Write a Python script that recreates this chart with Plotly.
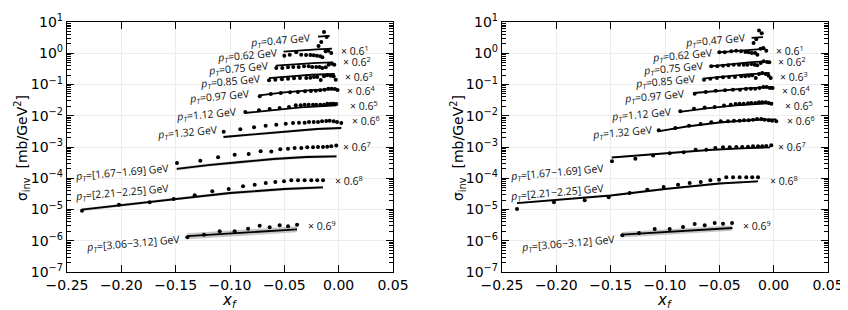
import plotly.graph_objects as go

# ---------------- data ----------------
PT_LABELS = ["0.47", "0.62", "0.75", "0.85", "0.97", "1.12", "1.32",
             "[1.67\u22121.69]", "[2.21\u22122.25]", "[3.06\u22123.12]"]
MULT_EXP = [0, 1, 2, 3, 4, 5, 6, 7, 8, 9]

# pT = 0.47
XP0 = [-0.0185, -0.016, -0.0135, -0.011]
LP0 = [1.7, 2.3, 4.8, 3.3]
RP0 = [2.13, 2.79, 5.35, 4.35]
LTX0, LTY0 = [-0.019, -0.0083], [3.4, 3.6]
RTX0, RTY0 = [-0.0203, -0.0098], [3.1, 3.3]

# pT = 0.62 (x 0.6^1)
XP1 = [-0.050, -0.045, -0.039, -0.0345, -0.030, -0.026, -0.023, -0.020, -0.017, -0.015, -0.012, -0.0095, -0.0068]
LP1 = [0.835, 0.90, 1.07, 0.90, 0.88, 0.88, 0.86, 0.835, 0.80, 0.74, 1.15, 1.21, 1.02]
RP1 = [1.07, 1.07, 1.15, 1.21, 1.15, 1.10, 1.07, 1.02, 1.02, 0.90, 1.40, 1.47, 1.21]
LTX1, LTY1 = [-0.0507, -0.035, -0.02, -0.0062], [1.12, 1.25, 1.33, 1.40]
RTX1, RTY1 = [-0.051, -0.035, -0.02, -0.0075], [1.07, 1.17, 1.27, 1.40]

# pT = 0.75 (x 0.6^2)
XP2 = [-0.0574, -0.0519, -0.0466, -0.0418, -0.0368, -0.0319, -0.0276, -0.0243, -0.0206, -0.0175, -0.0151, -0.0119, -0.0092, -0.0061, -0.0040]
LP2 = [0.337, 0.337, 0.355, 0.363, 0.363, 0.382, 0.382, 0.363, 0.363, 0.363, 0.337, 0.355, 0.43, 0.463, 0.43]
RP2 = [0.382, 0.382, 0.40, 0.411, 0.43, 0.43, 0.43, 0.43, 0.453, 0.43, 0.411, 0.488, 0.552, 0.525, 0.513]
LTX2, LTY2 = [-0.0579, -0.04, -0.02, -0.0052], [0.40, 0.45, 0.49, 0.51]
RTX2, RTY2 = [-0.059, -0.04, -0.02, -0.0083], [0.382, 0.45, 0.52, 0.552]

# pT = 0.85 (x 0.6^3)
XP3 = [-0.0641, -0.0583, -0.0522, -0.0466, -0.0411, -0.0356, -0.0298, -0.0261, -0.0227, -0.0197, -0.0165, -0.0135, -0.0105, -0.0073, -0.0046, -0.0027]
LP3 = [0.136, 0.1425, 0.1466, 0.1535, 0.158, 0.1615, 0.1615, 0.165, 0.174, 0.174, 0.139, 0.183, 0.197, 0.191, 0.183, 0.1425]
RP3 = [0.1425, 0.1535, 0.1615, 0.17, 0.174, 0.174, 0.183, 0.183, 0.191, 0.197, 0.1615, 0.217, 0.233, 0.217, 0.191, 0.1615]
LTX3, LTY3 = [-0.0641, -0.045, -0.025, -0.0037], [0.161, 0.185, 0.205, 0.217]
RTX3, RTY3 = [-0.065, -0.045, -0.025, -0.0037], [0.1535, 0.18, 0.21, 0.233]

# pT = 0.97 (x 0.6^4)
XP4 = [-0.0727, -0.0625, -0.0533, -0.0447, -0.0375, -0.031, -0.0255, -0.021, -0.017, -0.013, -0.0095, -0.0065, -0.0035, -0.001]
LP4 = [0.0419, 0.0497, 0.0535, 0.0563, 0.0575, 0.0605, 0.0619, 0.0633, 0.0652, 0.0682, 0.0734, 0.0734, 0.0718, 0.0667]
RP4 = [0.0508, 0.0575, 0.0633, 0.0652, 0.0682, 0.0682, 0.0718, 0.0734, 0.0734, 0.0773, 0.0832, 0.0832, 0.0773, 0.0773]
LTX4, LTY4 = [-0.0733, -0.05, -0.025, -0.0022], [0.0451, 0.056, 0.066, 0.0718]
RTX4, RTY4 = [-0.0733, -0.05, -0.025, -0.0015], [0.0535, 0.063, 0.075, 0.0832]

# pT = 1.12 (x 0.6^5)
XP5 = [-0.0859, -0.0733, -0.0635, -0.0543, -0.0457, -0.0395, -0.035, -0.0313, -0.0276, -0.0236, -0.0206, -0.0169, -0.0135, -0.0105, -0.0073, -0.0046, -0.0022]
LP5 = [0.0132, 0.0149, 0.0164, 0.0177, 0.019, 0.0216, 0.0216, 0.0226, 0.0226, 0.0226, 0.0226, 0.0226, 0.0226, 0.0243, 0.0243, 0.0243, 0.0238]
RP5 = [0.01387, 0.0168, 0.0184, 0.019, 0.0213, 0.0226, 0.0238, 0.0243, 0.0243, 0.025, 0.0256, 0.0256, 0.0269, 0.0269, 0.0269, 0.0256, 0.0243]
LTX5, LTY5 = [-0.0865, -0.06, -0.035, -0.0022], [0.01225, 0.0155, 0.0185, 0.0216]
RTX5, RTY5 = [-0.0865, -0.06, -0.035, -0.0006], [0.0132, 0.0175, 0.0215, 0.0256]

# pT = 1.32 (x 0.6^6)
XP6 = [-0.1058, -0.0905, -0.0779, -0.0672, -0.0574, -0.0487, -0.042, -0.0365, -0.0313, -0.0273, -0.023, -0.019, -0.0153, -0.0114, -0.0083, -0.0046, -0.0015, 0.0024]
LP6 = [0.00309, 0.00368, 0.00427, 0.00481, 0.00517, 0.00557, 0.00586, 0.006, 0.006, 0.00631, 0.00631, 0.00631, 0.00664, 0.00679, 0.00695, 0.00664, 0.00631, 0.00586]
RP6 = [0.00342, 0.00406, 0.00481, 0.00545, 0.00617, 0.00664, 0.00664, 0.00695, 0.00695, 0.00715, 0.00715, 0.00748, 0.00787, 0.00787, 0.00748, 0.00715, 0.00695, 0.00664]
LTX6, LTY6 = [-0.106, -0.08, -0.05, -0.02, 0.0024], [0.00209, 0.00251, 0.00313, 0.00377, 0.00406]
RTX6, RTY6 = [-0.1065, -0.08, -0.05, -0.02, 0.0024], [0.00318, 0.00453, 0.00608, 0.00731, 0.00769]

# pT = [1.67-1.69] (x 0.6^7)
XP7 = [-0.1488, -0.1273, -0.111, -0.0957, -0.0828, -0.0718, -0.062, -0.0537, -0.0466, -0.0405, -0.0344, -0.0289, -0.0236, -0.019, -0.0144, -0.0105, -0.0068, -0.0022]
LP7 = [3.08e-4, 3.65e-4, 4.68e-4, 5.67e-4, 5.97e-4, 7.28e-4, 7.18e-4, 8.44e-4, 8.83e-4, 9.29e-4, 9.29e-4, 9.78e-4, 9.78e-4, 1.0e-3, 1.0e-3, 1.02e-3, 1.05e-3, 1.12e-3]
RP7 = [3.48e-4, 4.22e-4, 5.35e-4, 6.28e-4, 6.76e-4, 8.2e-4, 8.2e-4, 9.29e-4, 9.78e-4, 9.78e-4, 1.0e-3, 1.0e-3, 1.02e-3, 1.05e-3, 1.05e-3, 1.05e-3, 1.08e-3, 1.13e-3]
LTX7, LTY7 = [-0.149, -0.12, -0.09, -0.06, -0.03, -0.002], [1.98e-4, 2.65e-4, 3.31e-4, 4.13e-4, 4.79e-4, 5.04e-4]
RTX7, RTY7 = [-0.149, -0.12, -0.09, -0.06, -0.03, -0.0033], [4.61e-4, 5.55e-4, 6.67e-4, 8.02e-4, 9.08e-4, 9.78e-4]

# pT = [2.21-2.25] (x 0.6^8)
XP8 = [-0.2362, -0.2022, -0.1739, -0.1518, -0.1325, -0.1163, -0.1012, -0.088, -0.0773, -0.0671, -0.0583, -0.0503, -0.0436, -0.0374, -0.0313, -0.0252, -0.0197, -0.0144]
LP8 = [9.16e-6, 1.43e-5, 1.70e-5, 2.17e-5, 2.85e-5, 3.82e-5, 4.53e-5, 5.52e-5, 6.22e-5, 7.05e-5, 7.59e-5, 7.98e-5, 8.59e-5, 8.59e-5, 8.59e-5, 8.59e-5, 8.59e-5, 8.59e-5]
RP8 = [1.04e-5, 1.70e-5, 1.97e-5, 2.45e-5, 3.37e-5, 4.31e-5, 5.25e-5, 6.22e-5, 7.05e-5, 7.59e-5, 8.59e-5, 8.99e-5, 1.07e-4, 1.07e-4, 1.07e-4, 1.07e-4, 1.07e-4, 1.07e-4]
LTX8, LTY8 = [-0.2365, -0.152, -0.1, -0.05, -0.0144], [9.86e-6, 2.17e-5, 3.37e-5, 4.53e-5, 5.13e-5]
RTX8, RTY8 = [-0.2362, -0.15, -0.1, -0.05, -0.0144], [1.61e-5, 2.81e-5, 4.53e-5, 6.79e-5, 7.98e-5]

# pT = [3.06-3.12] (x 0.6^9)
XP9 = [-0.1393, -0.1239, -0.1095, -0.0957, -0.0834, -0.0727, -0.0635, -0.0543, -0.0466, -0.0383]
LP9 = [1.29e-6, 1.56e-6, 2.0e-6, 2.0e-6, 2.43e-6, 3.03e-6, 2.69e-6, 3.12e-6, 2.9e-6, 3.27e-6]
RP9 = [1.49e-6, 1.77e-6, 2.38e-6, 2.38e-6, 2.75e-6, 3.44e-6, 3.12e-6, 3.70e-6, 3.52e-6, 3.70e-6]
LTX9, LTY9 = [-0.1393, -0.09, -0.0383], [1.4e-6, 1.84e-6, 2.32e-6]
RTX9, RTY9 = [-0.1396, -0.09, -0.038], [1.56e-6, 2.0e-6, 2.56e-6]

# relative half-width of the theory uncertainty band
LBAND = [0.04, 0.04, 0.04, 0.04, 0.04, 0.05, 0.10, 0.12, 0.12, 0.25]
RBAND = [0.04, 0.04, 0.04, 0.04, 0.04, 0.04, 0.04, 0.05, 0.08, 0.22]

# label placement (x_f centre, log10 y centre)
LABEL_X = [-0.0535, -0.0839, -0.0922, -0.0991, -0.1097, -0.1212, -0.1387, -0.1994, -0.1994, -0.1893]
LABEL_Y = [0.424, -0.056, -0.472, -0.90, -1.368, -1.944, -2.52, -3.83, -4.46, -6.072]
MULT_X = [None, 0.0003, 0.0021, 0.004, 0.0058, 0.0086, 0.0104, 0.0021, -0.0052, -0.0301]
MULT_Y = [None, 0.104, -0.248, -0.728, -1.176, -1.656, -2.136, -2.968, -4.056, -5.496]

XP = [XP0, XP1, XP2, XP3, XP4, XP5, XP6, XP7, XP8, XP9]
LP = [LP0, LP1, LP2, LP3, LP4, LP5, LP6, LP7, LP8, LP9]
RP = [RP0, RP1, RP2, RP3, RP4, RP5, RP6, RP7, RP8, RP9]
LTX = [LTX0, LTX1, LTX2, LTX3, LTX4, LTX5, LTX6, LTX7, LTX8, LTX9]
LTY = [LTY0, LTY1, LTY2, LTY3, LTY4, LTY5, LTY6, LTY7, LTY8, LTY9]
RTX = [RTX0, RTX1, RTX2, RTX3, RTX4, RTX5, RTX6, RTX7, RTX8, RTX9]
RTY = [RTY0, RTY1, RTY2, RTY3, RTY4, RTY5, RTY6, RTY7, RTY8, RTY9]

# ---------------- figure ----------------
fig = go.Figure()

def add_panel(xa, ya, pts, tx, ty, band):
    for i in range(len(XP)):
        up = [v * (1 + band[i]) for v in ty[i]]
        lo = [v / (1 + band[i]) for v in ty[i]]
        fig.add_trace(go.Scatter(
            x=tx[i] + tx[i][::-1], y=up + lo[::-1], xaxis=xa, yaxis=ya,
            mode="lines", fill="toself", fillcolor="rgba(0,0,0,0.22)",
            line=dict(width=0), hoverinfo="skip", showlegend=False))
        fig.add_trace(go.Scatter(
            x=tx[i], y=ty[i], xaxis=xa, yaxis=ya, mode="lines",
            line=dict(color="black", width=1.8), showlegend=False))
        fig.add_trace(go.Scatter(
            x=XP[i], y=pts[i], xaxis=xa, yaxis=ya, mode="markers",
            marker=dict(color="black", size=4, symbol="circle"),
            error_y=dict(type="percent", value=9, color="black", thickness=1, width=0),
            showlegend=False))

add_panel("x", "y", LP, LTX, LTY, LBAND)
add_panel("x2", "y2", RP, RTX, RTY, RBAND)

W, H = 848, 310

def px(x):
    return x / W

def py(y):
    return 1 - y / H

x1dom = [px(59), px(385)]
x2dom = [px(494), px(820)]
ydom = [py(264), py(14)]

def sup(k):
    return "10<sup>%s</sup>" % (str(k).replace("-", "\u2212"))

decades = list(range(-7, 2))
minor_vals = [m * 10.0 ** k for k in range(-7, 1) for m in range(2, 10)]

xax = dict(range=[-0.25, 0.05], tick0=-0.25, dtick=0.05, tickformat=".2f",
           ticks="inside", ticklen=7, tickwidth=1.2, tickcolor="black",
           showline=True, linecolor="black", linewidth=1.3, mirror="allticks",
           showgrid=True, gridcolor="#ececec", gridwidth=1, zeroline=False,
           tickfont=dict(family="DejaVu Sans", size=14, color="black"),
           automargin=False)
yax = dict(type="log", range=[-7, 1], tickmode="array",
           tickvals=[10.0 ** k for k in decades], ticktext=[sup(k) for k in decades],
           ticks="inside", ticklen=7, tickwidth=1.2, tickcolor="black",
           minor=dict(tickmode="array", tickvals=minor_vals, ticks="inside",
                      ticklen=3.5, tickcolor="black", tickwidth=0.8, showgrid=False),
           showline=True, linecolor="black", linewidth=1.3, mirror="allticks",
           showgrid=True, gridcolor="#ececec", gridwidth=1, zeroline=False,
           tickfont=dict(family="DejaVu Sans", size=14, color="black"),
           domain=ydom, automargin=False)

fig.update_layout(
    width=W, height=H, margin=dict(l=0, r=0, t=0, b=0, autoexpand=False),
    paper_bgcolor="white", plot_bgcolor="white", showlegend=False,
    font=dict(family="DejaVu Sans", color="black"),
    xaxis=dict(xax, domain=x1dom, anchor="y"),
    yaxis=dict(yax, anchor="x"),
    xaxis2=dict(xax, domain=x2dom, anchor="y2"),
    yaxis2=dict(yax, anchor="x2"),
)

ann = []
lab_font = dict(family="Open Sans", size=10.5, color="#111")
for xr, yr in (("x", "y"), ("x2", "y2")):
    for i, lab in enumerate(PT_LABELS):
        ann.append(dict(xref=xr, yref=yr, x=LABEL_X[i], y=LABEL_Y[i],
                        text="<i>p</i><sub><i>T</i></sub>=%s GeV" % lab,
                        showarrow=False, textangle=-5, xanchor="center", yanchor="middle",
                        font=lab_font))
        if MULT_EXP[i] > 0:
            ann.append(dict(xref=xr, yref=yr, x=MULT_X[i], y=MULT_Y[i],
                            text="\u00d7 0.6<sup>%d</sup>" % MULT_EXP[i],
                            showarrow=False, xanchor="left", yanchor="middle",
                            font=lab_font))

for xc, xt in ((14, (59 + 385) / 2), (450, (494 + 820) / 2)):
    ann.append(dict(xref="paper", yref="paper", x=px(xc), y=py(140),
                    text="\u03c3<sub>inv</sub>  [mb/GeV<sup>2</sup>]", textangle=-90,
                    showarrow=False, xanchor="center", yanchor="middle",
                    font=dict(family="DejaVu Sans", size=14, color="black")))
    ann.append(dict(xref="paper", yref="paper", x=px(xt), y=py(292),
                    text="<i>x</i><sub><i>f</i></sub>",
                    showarrow=False, xanchor="center", yanchor="middle",
                    font=dict(family="DejaVu Sans", size=15, color="black")))

fig.update_layout(annotations=ann)
fig.write_html("out.html")
